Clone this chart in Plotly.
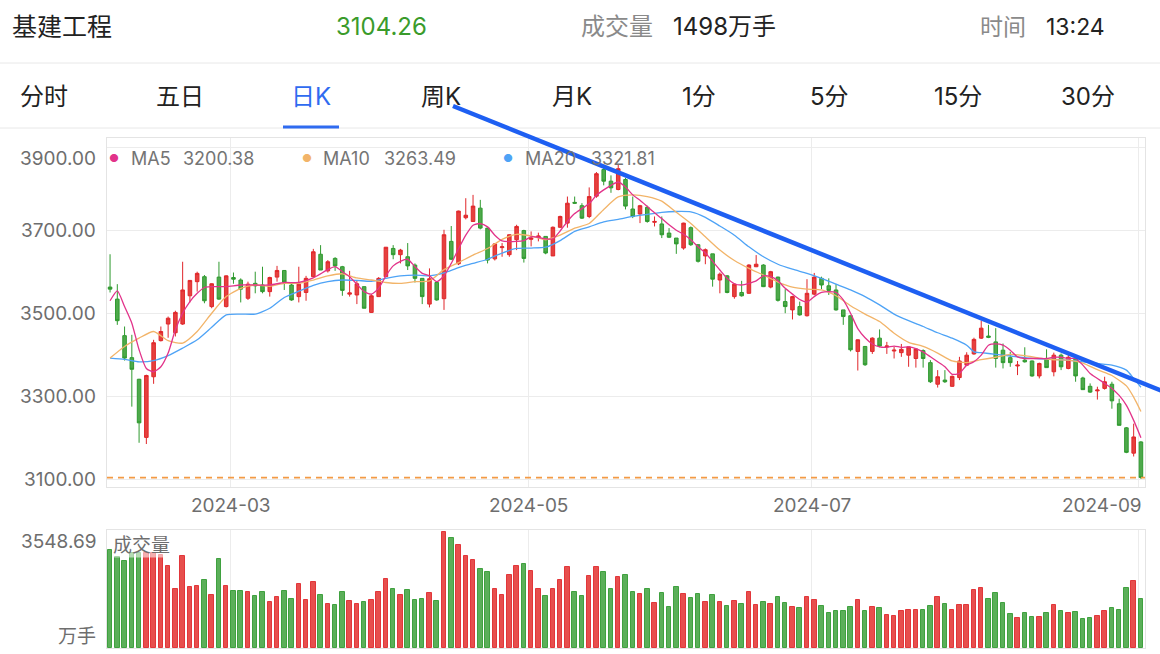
import plotly.graph_objects as go

W, H = 1160, 654

# ---------------- data ----------------
opens = [3563,3534,3446,3393,3341,3201,3347,3434,3474,3453,3474,3542,3576,3588,3516,3587,3516,3586,3580,3536,
         3572,3568,3552,3587,3603,3568,3540,3550,3588,3642,3602,3632,3612,3546,3544,3564,3502,3540,3588,3656,
         3641,3636,3616,3584,3522,3574,3535,3673,3619,3730,3721,3753,3705,3631,3658,3641,3677,3699,3678,3683,
         3685,3638,3707,3717,3767,3759,3733,3782,3846,3818,3798,3822,3751,3739,3755,3719,3715,3693,3681,3657,
         3706,3665,3638,3643,3580,3590,3540,3550,3548,3612,3616,3563,3587,3528,3508,3516,3494,3546,3584,3566,
         3556,3508,3494,3408,3420,3408,3440,3419,3409,3405,3399,3391,3410,3381,3329,3339,3324,3345,3375,3402,
         3440,3445,3431,3411,3393,3373,3387,3385,3349,3391,3359,3399,3367,3391,3344,3324,3313,3319,3329,3282,
         3224,3163,3190]
highs = [3642,3570,3468,3448,3342,3352,3436,3468,3492,3506,3624,3580,3600,3592,3572,3624,3591,3598,3584,3576,
         3600,3612,3588,3614,3604,3572,3612,3590,3655,3664,3628,3635,3614,3602,3579,3564,3546,3587,3659,3664,
         3655,3669,3620,3584,3608,3576,3701,3710,3747,3777,3785,3773,3706,3669,3669,3690,3713,3701,3697,3694,
         3685,3709,3735,3781,3781,3765,3803,3840,3850,3832,3858,3826,3781,3761,3759,3733,3733,3705,3681,3718,
         3709,3666,3656,3643,3598,3592,3572,3578,3618,3640,3618,3602,3588,3558,3542,3528,3582,3597,3588,3584,
         3570,3508,3494,3437,3421,3442,3461,3431,3419,3426,3419,3415,3413,3387,3363,3363,3350,3395,3406,3441,
         3482,3472,3464,3427,3407,3385,3418,3386,3381,3413,3405,3403,3405,3393,3347,3331,3323,3347,3335,3294,
         3226,3234,3192]
lows = [3550,3472,3386,3275,3188,3185,3330,3432,3441,3444,3472,3526,3552,3524,3512,3532,3514,3571,3526,3532,
        3548,3548,3540,3576,3556,3530,3526,3530,3587,3604,3598,3602,3542,3540,3522,3512,3501,3540,3588,3630,
        3620,3604,3574,3522,3514,3530,3508,3628,3616,3726,3721,3702,3620,3627,3636,3636,3652,3622,3661,3673,
        3642,3638,3705,3706,3763,3727,3729,3778,3808,3790,3796,3750,3729,3717,3718,3709,3681,3681,3643,3653,
        3662,3622,3618,3564,3548,3548,3535,3540,3547,3611,3563,3560,3528,3500,3485,3494,3492,3543,3558,3544,
        3506,3472,3408,3362,3373,3402,3418,3402,3391,3395,3371,3369,3369,3332,3321,3332,3323,3339,3373,3400,
        3438,3440,3369,3367,3371,3351,3381,3347,3343,3369,3348,3363,3365,3335,3315,3308,3292,3316,3270,3230,
        3163,3155,3101]
closes = [3558,3482,3392,3365,3236,3350,3429,3456,3488,3502,3556,3579,3596,3530,3571,3534,3590,3582,3558,3570,
          3566,3552,3586,3603,3575,3532,3570,3584,3648,3604,3624,3614,3555,3549,3571,3512,3542,3584,3659,3641,
          3652,3614,3584,3540,3583,3532,3689,3630,3746,3736,3758,3705,3628,3667,3660,3689,3709,3632,3681,3686,
          3645,3707,3733,3765,3765,3729,3781,3836,3818,3802,3848,3758,3733,3759,3721,3721,3689,3683,3667,3717,
          3665,3625,3653,3582,3594,3550,3570,3542,3616,3618,3564,3600,3531,3516,3540,3496,3548,3587,3568,3555,
          3508,3492,3412,3436,3376,3440,3421,3421,3411,3413,3419,3414,3391,3335,3347,3335,3348,3385,3399,3437,
          3464,3442,3391,3381,3381,3375,3383,3349,3379,3369,3399,3371,3394,3349,3316,3310,3315,3335,3289,3230,
          3165,3202,3104.26]
volumes = [2995,2769,2646,2892,2892,2892,2892,2851,2513,1805,2810,1856,1877,2082,1620,2718,1877,1754,1744,1723,
           1600,1713,1415,1559,1733,1508,1938,1456,2010,1631,1344,1323,1703,1436,1344,1415,1477,1703,2113,1795,
           1610,1774,1467,1497,1682,1436,3548.69,3364,3149,2810,2687,2420,2308,1815,1631,2236,2502,2554,2359,1815,
           1579,1805,2082,2482,1713,1579,2195,2472,2308,1785,2164,2215,1703,1641,1785,1385,1672,1251,1846,1641,
           1528,1662,1415,1631,1415,1272,1446,1354,1703,1313,1405,1333,1569,1364,1251,1231,1559,1477,1282,1077,
           1128,1118,1251,1456,1128,1251,1231,995,985,1128,1149,1159,1169,1282,1549,1333,1169,1302,1313,1774,
           1826,1508,1672,1364,1026,923,1077,954,933,1077,1302,1118,1067,1087,872,923,964,1138,1231,1159,
           1826,2031,1498]

ma5_idx = [0,1,2,3,4,5,6,7,8,9,10,11,12,13,14,16,18,20,22,24,26,28,30,31,32,33,34,35,36,37,38,39,40,41,42,43,44,45,
           46,47,48,49,50,51,52,53,54,56,57,58,59,60,61,62,63,64,65,66,67,68,69,70,71,72,73,74,75,76,77,78,79,80,
           81,82,83,84,85,86,87,88,89,90,91,92,93,94,95,96,97,98,99,100,101,102,103,104,105,106,107,108,109,110,
           111,112,113,114,115,116,117,118,119,120,121,122,123,124,125,126,127,128,129,130,131,132,133,134,135,
           136,137,138,139,140,141,142]
ma5_val = [3530,3554,3516,3476,3412,3367,3359,3371,3404,3460,3500,3528,3548,3562,3564,3564,3568,3568,3568,3574,3574,
           3585,3605,3612,3600,3588,3570,3552,3546,3560,3590,3614,3625,3630,3612,3596,3590,3576,3590,3620,3655,3688,
           3712,3716,3708,3688,3674,3673,3675,3684,3683,3679,3679,3698,3721,3740,3752,3764,3784,3797,3808,3816,3804,
           3785,3772,3757,3742,3728,3713,3700,3690,3677,3660,3645,3625,3604,3584,3571,3568,3572,3578,3590,3588,3578,
           3560,3546,3533,3527,3540,3550,3552,3550,3532,3500,3463,3441,3426,3419,3418,3421,3418,3419,3415,3407,3395,
           3383,3371,3353,3355,3375,3383,3399,3423,3426,3423,3411,3395,3391,3391,3391,3391,3394,3394,3391,3391,3375,
           3355,3343,3331,3319,3302,3278,3242,3200.38]
ma10_idx = [0,2,4,6,8,10,12,14,16,18,20,22,24,26,28,30,32,34,36,38,40,42,44,46,48,50,52,54,56,58,60,62,64,66,68,70,
            72,74,76,78,80,82,84,86,88,90,92,94,96,98,100,102,104,106,108,110,112,114,116,118,120,122,124,126,128,
            130,132,134,136,138,140,141,142]
ma10_val = [3392,3420,3440,3456,3434,3428,3456,3500,3540,3560,3568,3565,3572,3572,3580,3590,3595,3585,3580,3574,3572,
            3576,3578,3605,3622,3640,3656,3678,3690,3686,3677,3688,3705,3716,3750,3780,3785,3781,3770,3743,3716,3684,
            3652,3627,3608,3592,3575,3563,3558,3556,3542,3518,3498,3480,3452,3430,3420,3404,3385,3381,3388,3394,3401,
            3398,3392,3388,3387,3380,3364,3350,3325,3298,3263.49]
ma20_idx = [0,2,4,6,8,10,12,14,16,18,20,22,24,26,28,30,32,34,36,38,40,42,44,46,48,50,52,54,56,58,60,62,64,66,68,70,
            72,74,76,78,80,82,84,86,88,90,92,94,96,98,100,102,104,106,108,110,112,114,116,118,119,120,122,124,126,
            128,130,132,134,136,138,140,141,142]
ma20_val = [3392,3389,3383,3386,3398,3416,3436,3466,3496,3498,3498,3512,3538,3553,3567,3576,3580,3579,3577,3584,3590,
            3592,3590,3597,3610,3620,3630,3645,3656,3657,3659,3675,3697,3708,3720,3726,3733,3738,3743,3745,3744,3731,
            3710,3688,3660,3636,3618,3606,3596,3584,3570,3556,3540,3520,3498,3482,3468,3453,3440,3423,3407,3405,3401,
            3397,3393,3390,3389,3387,3383,3379,3375,3363,3343,3321.81]

month_idx = [17, 58, 97, 142]
month_labels = ["2024-03", "2024-05", "2024-07", "2024-09"]
price_ticks = [3900, 3700, 3500, 3300, 3100]
last_price = 3104.26
vol_max_label = "3548.69"
ma_names = ["MA5", "MA10", "MA20"]
ma_last = ["3200.38", "3263.49", "3321.81"]

# ---------------- styling ----------------
RED, RED_LINE = "#e5413e", "#e0262a"
GREEN, GREEN_LINE = "#4ea94b", "#2f9a2f"
FONT = "Inter, Noto Sans CJK SC, sans-serif"
GRID = "#ececec"
BORDER = "#e4e4e4"
LABEL = "#6e6e6e"
MA_COLORS = ["#e2338a", "#f2b469", "#4ea3f6"]

def px(x):
    return x / W

def py(y):
    return 1 - y / H

x = list(range(len(closes)))
vol_colors = [RED if c >= o else GREEN for o, c in zip(opens, closes)]
vol_lines = [RED_LINE if c >= o else GREEN_LINE for o, c in zip(opens, closes)]

fig = go.Figure()
fig.add_trace(go.Candlestick(
    x=x, open=opens, high=highs, low=lows, close=closes,
    increasing=dict(fillcolor=RED, line=dict(color=RED_LINE, width=1)),
    decreasing=dict(fillcolor=GREEN, line=dict(color=GREEN_LINE, width=1)),
    whiskerwidth=0, showlegend=False, hoverinfo="skip", xaxis="x", yaxis="y"))
for idx, val, col in [(ma20_idx, ma20_val, MA_COLORS[2]), (ma10_idx, ma10_val, MA_COLORS[1]),
                      (ma5_idx, ma5_val, MA_COLORS[0])]:
    fig.add_trace(go.Scatter(x=idx, y=val, mode="lines", line=dict(color=col, width=1.3, shape="spline", smoothing=0.6),
                             showlegend=False, hoverinfo="skip", xaxis="x", yaxis="y"))
fig.add_trace(go.Bar(x=x, y=volumes, marker=dict(color=vol_colors, opacity=0.92, line=dict(color=vol_lines, width=1)),
                     width=0.62, showlegend=False, hoverinfo="skip", xaxis="x2", yaxis="y2"))

xdom = [px(107), px(1145)]
grid_x = [m - 0.37 for m in month_idx]
xr = [-0.42, 142.56]
common_x = dict(domain=xdom, range=xr, tickvals=grid_x, showticklabels=False, showgrid=True, gridcolor=GRID,
                gridwidth=1, zeroline=False, showline=True, mirror=True, linecolor=BORDER, ticks="", fixedrange=True)
fig.update_layout(
    width=W, height=H, margin=dict(l=0, r=0, t=0, b=0),
    paper_bgcolor="white", plot_bgcolor="white", bargap=0,
    xaxis=dict(**common_x, anchor="y", rangeslider=dict(visible=False)),
    yaxis=dict(domain=[py(487), py(138)], range=[3081.5, 3922], tickvals=price_ticks, showticklabels=False,
               showgrid=True, gridcolor=GRID, zeroline=False, showline=True, mirror=True, linecolor=BORDER,
               anchor="x", fixedrange=True),
    xaxis2=dict(**common_x, anchor="y2"),
    yaxis2=dict(domain=[py(648), py(530)], range=[0, 3600], showticklabels=False, showgrid=False,
                zeroline=False, showline=True, mirror=True, linecolor=BORDER, anchor="x2", fixedrange=True),
    font=dict(family=FONT),
)

shapes = []
for yy in (63, 128):
    shapes.append(dict(type="line", xref="paper", yref="paper", x0=0, x1=1, y0=py(yy), y1=py(yy),
                       line=dict(color="#e8e8e8", width=1)))
shapes.append(dict(type="line", xref="paper", yref="paper", x0=px(283), x1=px(339), y0=py(127), y1=py(127),
                   line=dict(color="#2f6bf0", width=3)))
shapes.append(dict(type="line", xref="paper", yref="y", x0=xdom[0], x1=xdom[1], y0=last_price, y1=last_price,
                   line=dict(color="#f39a45", width=1.8, dash="6px,5px")))
shapes.append(dict(type="line", xref="paper", yref="paper", x0=px(453), y0=py(106), x1=px(1162), y1=py(391),
                   line=dict(color="#1e5ff2", width=4.5), layer="above"))
fig.update_layout(shapes=shapes)

ann = []
def text(x0, y0, s, size, color, xanchor="left", **kw):
    ann.append(dict(xref="paper", yref="paper", x=px(x0), y=py(y0), text=s, showarrow=False,
                    xanchor=xanchor, yanchor="middle", font=dict(size=size, color=color, family=FONT), **kw))

# header
text(10, 27, "基建工程", 25, "#222222")
text(381, 27, "3104.26", 24, "#3a9b2b", xanchor="center")
text(579, 27, "成交量", 24, "#8a8a8a")
text(671, 27, "1498万手", 24, "#222222")
text(978, 27, "时间", 23, "#8a8a8a")
text(1044, 27, "13:24", 23, "#222222")
# tabs
tabs = [("分时", 44, "#222222"), ("五日", 180, "#222222"), ("日K", 311, "#2f6bf0"), ("周K", 441, "#222222"),
        ("月K", 572, "#222222"), ("1分", 699, "#222222"), ("5分", 829, "#222222"), ("15分", 958, "#222222"),
        ("30分", 1088, "#222222")]
for s, cx, col in tabs:
    text(cx, 97, s, 24, col, xanchor="center")

# legend of MAs
for dot_x, name_x, val_x, name, val, col in zip([114, 307, 508], [129, 321, 523], [181, 382, 589],
                                                 ma_names, ma_last, MA_COLORS):
    text(dot_x, 158, "●", 11, col, xanchor="center")
    text(name_x, 158, name, 18, "#747474")
    text(val_x, 158, val, 18, "#747474")

# y labels
for v in price_ticks:
    ann.append(dict(xref="paper", yref="y", x=px(98), y=v, text=f"{v:.2f}", showarrow=False, xanchor="right",
                    yanchor="middle", yshift=(-11 if v == 3900 else 0),
                    font=dict(size=19, color=LABEL, family=FONT)))
# x labels
for m, lab in zip(month_idx, month_labels):
    if lab == month_labels[-1]:
        ann.append(dict(xref="paper", yref="paper", x=px(1144), y=py(506), text=lab, showarrow=False,
                        xanchor="right", yanchor="middle", font=dict(size=19, color=LABEL, family=FONT)))
    else:
        ann.append(dict(xref="x", yref="paper", x=m - 0.37, y=py(506), text=lab, showarrow=False,
                        xanchor="center", yanchor="middle", font=dict(size=19, color=LABEL, family=FONT)))
# volume labels
text(98, 541, vol_max_label, 19, LABEL, xanchor="right")
text(98, 636, "万手", 19, LABEL, xanchor="right")
text(112, 545, "成交量", 19, LABEL, bgcolor="rgba(255,255,255,0.55)", borderpad=0)

fig.update_layout(annotations=ann)
fig.write_html("out.html")
